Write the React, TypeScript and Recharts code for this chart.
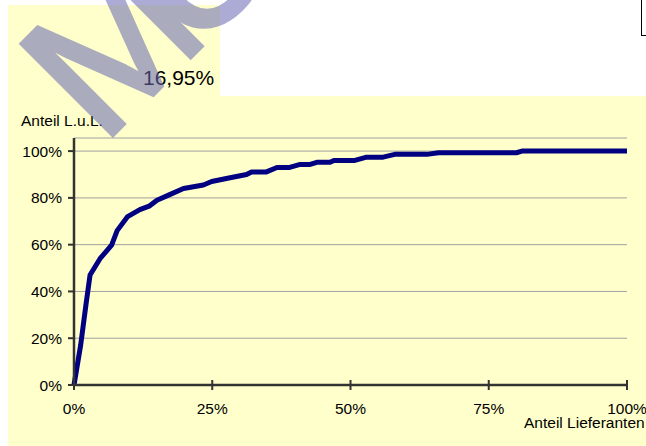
import { CartesianGrid, Line, LineChart, XAxis, YAxis } from 'recharts';

// Anteil Lieferanten (x, %) vs. kumulierter Anteil L.u.L. (y, %)
const supplierShare = [0, 1.2, 2.2, 2.9, 4.7, 6.8, 7.8, 9.7, 11.9, 13.7, 15, 17.4, 19.8, 23.4, 24.9, 28, 31.2, 32.1, 34.8, 36.7, 39, 40.9, 42.7, 43.9, 46.3, 47, 50.8, 52.9, 55.9, 58, 63.8, 65.9, 80, 81, 100];
const valueShare = [0, 17, 35, 47, 54, 59.8, 66, 72, 75, 76.6, 79, 81.5, 84, 85.5, 87, 88.5, 90, 91.1, 91.1, 93, 93, 94.3, 94.3, 95.2, 95.2, 96, 96, 97.4, 97.4, 98.6, 98.6, 99.3, 99.3, 100, 100];
const xTicks = [0, 25, 50, 75, 100];
const yTicks = [0, 20, 40, 60, 80, 100];
const markerText = '16,95%';
const yTitle = 'Anteil L.u.L.';
const xTitle = 'Anteil Lieferanten';
const watermark = 'MUSTER';

const data = supplierShare.map((x, i) => ({ x, y: valueShare[i] }));

const FONT = '"Liberation Sans", Arial, sans-serif';
const AXIS = '#333333';

function XTick(props: any) {
  const { x, y, payload } = props;
  return (
    <g>
      <line x1={x} x2={x} y1={y - 5} y2={y + 5} stroke={AXIS} strokeWidth={2} />
      <text x={x} y={y + 29} textAnchor="middle" fontSize={15.5} fill="#000" fontFamily={FONT}>
        {`${payload.value}%`}
      </text>
    </g>
  );
}

export default function App() {
  return (
    <div style={{ position: 'absolute', left: 0, top: 0, width: 646, height: 446, overflow: 'hidden', background: '#fff', fontFamily: FONT }}>
      <div style={{ position: 'absolute', left: 8, top: 5, width: 212, height: 91, background: '#FFFFCC' }} />
      <div style={{ position: 'absolute', left: 641, top: -2, width: 12, height: 36, border: '1px solid #000' }} />
      <div style={{ position: 'absolute', left: 8, top: 96, width: 638, height: 350, background: '#FFFFCC' }}>
        <LineChart width={638} height={350} data={data} margin={{ top: 42, right: 19, left: 0, bottom: 0 }}>
          <CartesianGrid vertical={false} stroke="#a0a0a0" strokeWidth={1} />
          <XAxis
            dataKey="x"
            type="number"
            domain={[0, 100]}
            ticks={xTicks}
            height={61}
            tickSize={0}
            tickMargin={0}
            tickLine={false}
            axisLine={{ stroke: AXIS, strokeWidth: 2.5 }}
            tick={<XTick />}
            label={{
              value: xTitle,
              content: ({ viewBox }: any) => (
                <text x={viewBox.x + viewBox.width - 103} y={viewBox.y + 43} fontSize={15.5} fill="#000" fontFamily={FONT}>
                  {xTitle}
                </text>
              ),
            }}
          />
          <YAxis
            type="number"
            domain={[0, 105.6]}
            ticks={yTicks}
            width={66}
            tickSize={6}
            tickMargin={6}
            tickLine={{ stroke: AXIS, strokeWidth: 2 }}
            axisLine={{ stroke: AXIS, strokeWidth: 2.5 }}
            tick={{ fill: '#000', fontSize: 15.5, fontFamily: FONT }}
            tickFormatter={(v: number) => `${v}%`}
            label={{
              value: yTitle,
              content: ({ viewBox }: any) => (
                <text x={viewBox.x + 13} y={viewBox.y - 12} fontSize={15.5} fill="#000" fontFamily={FONT}>
                  {yTitle}
                </text>
              ),
            }}
          />
          <Line
            type="linear"
            dataKey="y"
            stroke="#000080"
            strokeWidth={5}
            strokeLinejoin="round"
            dot={false}
            isAnimationActive={false}
          />
        </LineChart>
      </div>
      <svg width={646} height={446} style={{ position: 'absolute', left: 0, top: 0, pointerEvents: 'none' }}>
        <text x={143} y={85} fontSize={21} fill="#000" fontFamily={FONT}>
          {markerText}
        </text>
        <g opacity={0.55}>
          <text
            transform="translate(102,146) rotate(-45)"
            fontSize={188}
            letterSpacing={-28}
            fill="#6868b4"
            stroke="#6868b4"
            strokeWidth={4}
            strokeLinejoin="miter"
            fontFamily={FONT}
          >
            {watermark}
          </text>
        </g>
      </svg>
    </div>
  );
}
